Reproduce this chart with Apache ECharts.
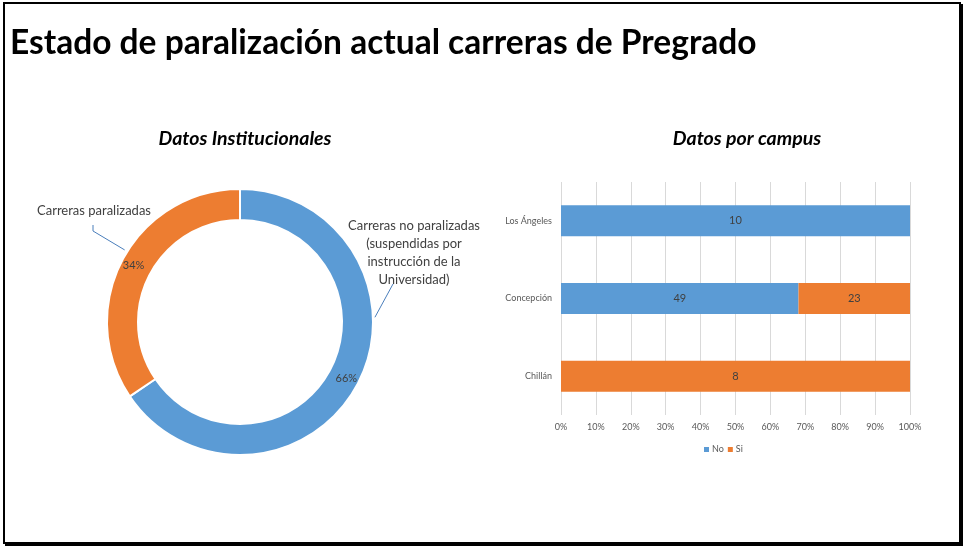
<!DOCTYPE html>
<html>
<head>
<meta charset="utf-8">
<script src="https://cdn.jsdelivr.net/npm/echarts@6/dist/echarts.min.js"></script>
<style>
html,body{margin:0;padding:0;background:#fff;}
#chart{width:963px;height:546px;position:relative;}
#frame{position:absolute;left:3px;top:2px;width:954px;height:538px;border:2px solid #000;box-shadow:2px 2px 0 #000;pointer-events:none;}
</style>
</head>
<body>
<div id="chart"></div>
<div id="frame"></div>
<script>
// ---- data ----
const mainTitle = 'Estado de paralización actual carreras de Pregrado';
const leftTitle = 'Datos Institucionales';
const rightTitle = 'Datos por campus';
const pieNames = ['Carreras no paralizadas\n(suspendidas por\ninstrucción de la\nUniversidad)', 'Carreras paralizadas'];
const pieValues = [59, 31];
const campuses = ['Los Ángeles', 'Concepción', 'Chillán'];
const seriesNames = ['No', 'Si'];
const noValues = [10, 49, 0];
const siValues = [0, 23, 8];
const percentTicks = [0, 10, 20, 30, 40, 50, 60, 70, 80, 90, 100];

// ---- styles ----
const BLUE = '#5B9BD5', ORANGE = '#ED7D31';
const FONT = 'Lato, "Liberation Sans", sans-serif';
const cx = 240, cy = 322, R = 133, r = 102;

const totals = campuses.map((c, i) => noValues[i] + siValues[i]);
const noPct = noValues.map((v, i) => v / totals[i] * 100);
const siPct = siValues.map((v, i) => v / totals[i] * 100);
const rawByName = { No: noValues, Si: siValues };

function polar(angleDeg, rad) {
  const a = angleDeg * Math.PI / 180;
  return [cx + rad * Math.sin(a), cy - rad * Math.cos(a)];
}

const outsideLayout = {
  0: { x: 414, y: 253, lines: [polar(88, R + 2), [393, 284]] },
  1: { x: 94, y: 211, lines: [polar(302, R + 3), [93, 231], [93, 225]] }
};

const chart = echarts.init(document.getElementById('chart'), null, { renderer: 'canvas' });
const pieData = pieValues.map((v, i) => ({ name: pieNames[i], value: v, itemStyle: { color: i === 0 ? BLUE : ORANGE } }));

chart.setOption({
  animation: false,
  textStyle: { fontFamily: FONT },
  graphic: [
    { type: 'text', x: 10, y: 43, style: { text: mainTitle, font: 'bold 33.5px ' + FONT, fill: '#000', verticalAlign: 'middle' } },
    { type: 'text', x: 245, y: 139, style: { text: leftTitle, font: 'italic bold 19.5px ' + FONT, fill: '#000', align: 'center', verticalAlign: 'middle' } },
    { type: 'text', x: 747, y: 139, style: { text: rightTitle, font: 'italic bold 19.5px ' + FONT, fill: '#000', align: 'center', verticalAlign: 'middle' } }
  ],
  legend: {
    data: seriesNames,
    left: 699, top: 440,
    itemWidth: 5, itemHeight: 5, itemGap: 4,
    icon: 'rect',
    textStyle: { fontSize: 9, color: '#595959', fontFamily: FONT, padding: [0, 0, 0, -2] }
  },
  grid: { left: 561, right: 53, top: 182, bottom: 131, containLabel: false },
  xAxis: {
    type: 'value', min: 0, max: 100, interval: 10,
    axisLine: { show: false }, axisTick: { show: false },
    splitLine: { lineStyle: { color: '#d9d9d9', width: 1 } },
    axisLabel: { formatter: '{value}%', fontSize: 9, color: '#595959', margin: 8, fontFamily: FONT }
  },
  yAxis: {
    type: 'category', data: campuses, inverse: true,
    axisLine: { show: false }, axisTick: { show: false },
    axisLabel: { fontSize: 9, color: '#595959', margin: 9, fontFamily: FONT }
  },
  series: [
    {
      type: 'pie', name: 'inner', center: [cx, cy], radius: [r, R],
      startAngle: 90, clockwise: true, percentPrecision: 0,
      itemStyle: { borderColor: '#fff', borderWidth: 2 },
      label: { show: true, position: 'inside', formatter: '{d}%', fontSize: 11, color: '#404040', fontFamily: FONT },
      labelLine: { show: false },
      emphasis: { disabled: true },
      data: pieData
    },
    {
      type: 'pie', name: 'outer', center: [cx, cy], radius: [r, R],
      startAngle: 90, clockwise: true, silent: true,
      itemStyle: { color: 'rgba(0,0,0,0)' },
      label: { show: true, position: 'outside', formatter: '{b}', fontSize: 13, lineHeight: 18, color: '#404040', align: 'center', fontFamily: FONT, overflow: 'none', width: 300 },
      labelLine: { show: true, lineStyle: { color: '#4A7EBB', width: 1 } },
      labelLayout: function (p) {
        const o = outsideLayout[p.dataIndex];
        return { x: o.x, y: o.y, align: 'center', verticalAlign: 'middle', labelLinePoints: o.lines.length === 2 ? [o.lines[0], o.lines[1], o.lines[1]] : o.lines };
      },
      emphasis: { disabled: true },
      data: pieValues.map((v, i) => ({ name: pieNames[i], value: v }))
    },
    {
      type: 'bar', name: seriesNames[0], stack: 'total', barWidth: 31,
      itemStyle: { color: BLUE },
      label: { show: true, position: 'inside', fontSize: 11, color: '#404040', fontFamily: FONT,
        formatter: p => { const v = rawByName.No[p.dataIndex]; return v ? String(v) : ''; } },
      data: noPct
    },
    {
      type: 'bar', name: seriesNames[1], stack: 'total', barWidth: 31,
      itemStyle: { color: ORANGE },
      label: { show: true, position: 'inside', fontSize: 11, color: '#404040', fontFamily: FONT,
        formatter: p => { const v = rawByName.Si[p.dataIndex]; return v ? String(v) : ''; } },
      data: siPct
    }
  ]
});
</script>
</body>
</html>
